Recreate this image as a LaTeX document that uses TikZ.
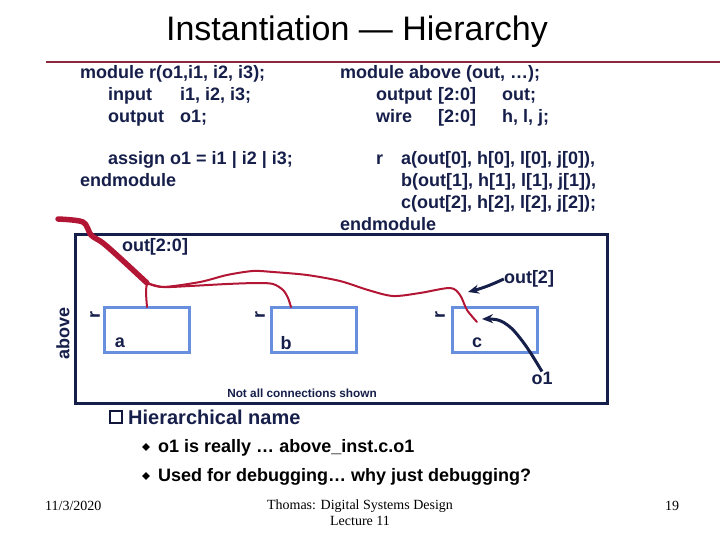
\documentclass[tikz,border=0pt]{standalone}
\usepackage{fontspec}
\setmainfont{Liberation Sans}
\newfontfamily\footfont{Liberation Serif}
\usetikzlibrary{arrows.meta,positioning,shapes.geometric}
\definecolor{slideNavy}{RGB}{22,30,74}
\definecolor{slideMaroon}{RGB}{140,40,62}
\definecolor{wireRed}{RGB}{178,22,52}
\definecolor{instBlue}{RGB}{104,142,222}

\begin{document}
\begin{tikzpicture}[x=1pt,y=-1pt,
  code/.style={anchor=base west,inner sep=0pt,text=slideNavy,font=\bfseries\fontsize{18}{20}\selectfont},
  lbl/.style={inner sep=0pt,text=slideNavy,font=\bfseries\fontsize{18}{20}\selectfont},
  inst/.style={draw=instBlue,line width=2.6pt,minimum width=85pt,minimum height=45pt,anchor=north west,inner sep=0pt},
  rtag/.style={lbl,rotate=90},
  bus/.style={draw=wireRed,line width=5.5pt,line cap=round,line join=round},
  wire/.style={draw=wireRed,line width=2pt,line cap=round,line join=round},
  pointer/.style={draw=slideNavy,line width=3pt,-{Stealth[length=11pt,width=9pt]}},
  foot/.style={inner sep=0pt,font=\footfont\fontsize{14}{16}\selectfont}
]
\useasboundingbox (0,0) rectangle (720,540);

\node[anchor=base,inner sep=0pt,font=\fontsize{34}{36}\selectfont] (title) at (357,41) {Instantiation — Hierarchy};
\draw[slideMaroon,line width=2.5pt] (46,62) -- (720,62);

\node[code] (rmod) at (80,79) {module r(o1,i1, i2, i3);};
\node[code] (rin) at (108,101) {input};
\node[code] (rinv) at (180,101) {i1, i2, i3;};
\node[code] (rout) at (108,123) {output};
\node[code] (routv) at (180,123) {o1;};
\node[code] (rassign) at (108,165) {assign o1 = i1 | i2 | i3;};
\node[code] (rend) at (80,187) {endmodule};

\node[code] (amod) at (340,79) {module above (out, …);};
\node[code] (aout) at (376,101) {output};
\node[code] (aoutw) at (438,101) {[2:0]};
\node[code] (aoutv) at (502,101) {out;};
\node[code] (awire) at (376,123) {wire};
\node[code] (awirew) at (438,123) {[2:0]};
\node[code] (awirev) at (502,123) {h, l, j;};
\node[code] (ar) at (376,165) {r};
\node[code] (ainsta) at (401,165) {a(out[0], h[0], l[0], j[0]),};
\node[code] (ainstb) at (401,187) {b(out[1], h[1], l[1], j[1]),};
\node[code] (ainstc) at (401,208) {c(out[2], h[2], l[2], j[2]);};
\node[code] (aend) at (340,230) {endmodule};

\node[draw=slideNavy,line width=3pt,minimum width=532pt,minimum height=169pt,anchor=north west,inner sep=0pt] (abovebox) at (74,233) {};
\node[rtag] (abovelbl) at (63,333) {above};

\node[inst] (a) at (103,306) {};
\node[inst] (b) at (270,306) {};
\node[inst] (c) at (451,306) {};
\node[rtag] (ra) at (95,315) {r};
\node[rtag] (rb) at (260,315) {r};
\node[rtag] (rc) at (440,315) {r};
\node[lbl] (alab) at (120,343) {a};
\node[lbl] (blab) at (286,343) {b};
\node[lbl] (clab) at (477,343) {c};

\node[lbl] (outbus) at (155,247) {out[2:0]};
\node[lbl] (out2) at (529,279) {out[2]};
\node[lbl] (o1) at (542,378) {o1};
\node[lbl,font=\bfseries\fontsize{11.8}{13}\selectfont] (note) at (302,393) {Not all connections shown};

\coordinate (busin) at (58,219);
\coordinate (tap) at (147,283);
\coordinate (ain) at (147,307);
\coordinate (bin) at (291,307);
\coordinate (cin) at (477,322);
\coordinate (cout2) at (468,292);
\coordinate (co1) at (482,319);

\draw[bus] plot[smooth,tension=0.5] coordinates {(busin) (83,222) (91,235) (103,243) (120,258) (tap)};
\draw[wire] plot[smooth,tension=0.5] coordinates {(tap) (146,292) (ain)};
\draw[wire] plot[smooth,tension=0.5] coordinates {(tap) (163,287) (190,286) (227,284) (257,283) (273,284) (283,290) (288,298) (bin)};
\draw[wire] plot[smooth,tension=0.5] coordinates {(tap) (163,287) (200,282) (227,275) (253,271) (273,272) (307,275) (340,281) (368,290) (393,296) (420,293) (450,288) (460,295) (467,310) (cin)};

\draw[pointer] (out2.west) to[bend left=5] (cout2);
\draw[pointer] plot[smooth,tension=0.6] coordinates {(o1.north) (530,352) (520,338) (510,327) (498,320) (co1)};

\node[draw=slideNavy!80!black,line width=1.2pt,minimum size=12pt,inner sep=0pt] (sq) at (116,417) {};
\node[code,font=\bfseries\fontsize{20}{22}\selectfont] (hname) at (128,424) {Hierarchical name};
\node[diamond,fill=black,inner sep=0pt,minimum size=8pt] (d1) at (146,447) {};
\node[code,text=black] (b1) at (158,452) {o1 is really …  above\_inst.c.o1};
\node[diamond,fill=black,inner sep=0pt,minimum size=8pt] (d2) at (146,476) {};
\node[code,text=black] (b2) at (158,481) {Used for debugging…  why just debugging?};

\node[foot,anchor=base west] (date) at (45,510) {11/3/2020};
\node[foot,anchor=base] (course) at (360,509) {Thomas: Digital Systems Design};
\node[foot,below=4pt of course] (lect) {Lecture 11};
\node[foot,anchor=base west] (page) at (665,510) {19};
\end{tikzpicture}
\end{document}
